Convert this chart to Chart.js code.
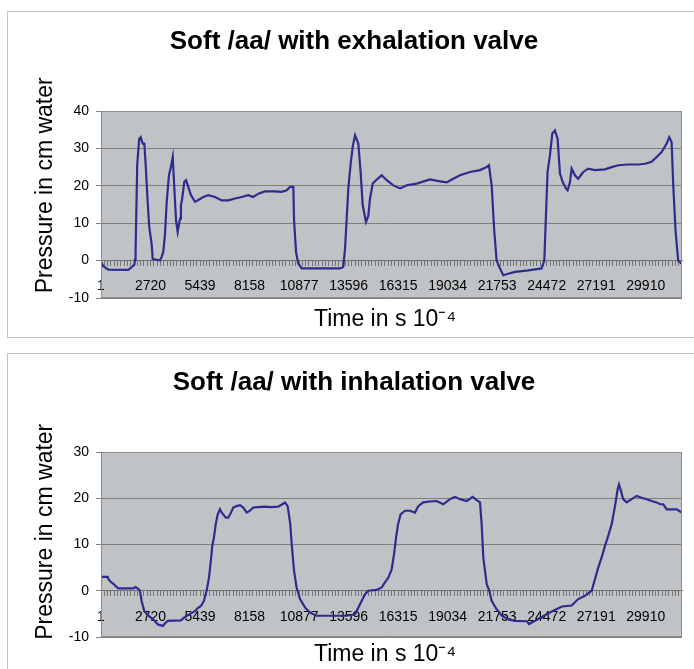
<!DOCTYPE html>
<html lang="en">
<head>
  <meta charset="UTF-8" />
  <title>Soft /aa/ pressure traces</title>
  <script src="https://cdn.jsdelivr.net/npm/chart.js"></script>
  <style>
    html, body { margin: 0; padding: 0; background: #fff; overflow: hidden; width: 694px; height: 669px; }
    .box { position: absolute; left: 7px; width: 700px; border: 1px solid #c4c4c4; overflow: hidden; }
    #boxTop { top: 11px; height: 325px; }
    #boxBottom { top: 353px; height: 330px; }
    canvas { display: block; }
  </style>
</head>
<body>
  <div class="box" id="boxTop"><canvas id="exhaleChart" width="692" height="325"></canvas></div>
  <div class="box" id="boxBottom"><canvas id="inhaleChart" width="692" height="315"></canvas></div>
  <script>
    // sample labels shown along the time axis
    const timeTickLabels = [1, 2720, 5439, 8158, 10877, 13596, 16315, 19034, 21753, 24472, 27191, 29910];
    const timeMax = 31900;

    // exhalation valve trace (sample no., cm water)
    const exhaleTime = [1, 130, 400, 1500, 1690, 1830, 1870, 1900, 1990, 2100, 2180, 2290, 2380, 2450, 2560, 2650, 2780, 2840,
      3240, 3330, 3420, 3510, 3610, 3730, 3840, 3940, 4020, 4120, 4210, 4340, 4390, 4460, 4570, 4670, 4790, 4940, 5160, 5340,
      5620, 5890, 6260, 6630, 6990, 7360, 7720, 8090, 8360, 8640, 9000, 9550, 9920, 10200, 10380, 10560, 10600, 10710, 10830,
      11020, 13120, 13300, 13400, 13490, 13580, 13710, 13820, 13950, 14130, 14260, 14370, 14550, 14680, 14770, 14920, 15100,
      15410, 15690, 16050, 16420, 16780, 17330, 18060, 18610, 18980, 19340, 19710, 20260, 20810, 21180, 21300, 21450, 21590,
      21720, 21910, 22090, 22360, 22730, 23460, 24190, 24340, 24410, 24520, 24650, 24780, 24920, 25070, 25200, 25350, 25530,
      25620, 25750, 25840, 26020, 26200, 26480, 26750, 27120, 27670, 28040, 28400, 28950, 29500, 29870, 30230, 30510, 30780,
      31060, 31200, 31330, 31420, 31550, 31690, 31880];
    const exhalePressure = [-0.4, -1.5, -2.4, -2.5, -1.7, -1.1, 0.3, 2.8, 25.7, 32.6, 33, 31.3, 31.3, 26, 16, 9, 4.5, 0.4,
      0.1, 1, 2.3, 6.8, 15.7, 22.8, 25, 27.7, 20, 10.8, 7.7, 11.2, 14.8, 16.6, 21, 21.5, 19.7, 17.5, 15.7, 16.2,
      17, 17.5, 17, 16.1, 16.1, 16.6, 17, 17.5, 17, 17.9, 18.5, 18.5, 18.4, 18.8, 19.7, 19.7, 10.8, 2.3, -0.8,
      -2.1, -2.1, -1.7, 3.2, 11.2, 19.3, 26, 30.4, 33.5, 31.3, 23.3, 14.8, 10.3, 12, 16.6, 20.6, 21.5,
      22.8, 21.5, 20.1, 19.3, 20.1, 20.6, 21.7, 21.2, 20.9, 21.9, 22.8, 23.7, 24.2, 25, 25.5, 20.1, 8.1,
      0, -2.1, -3.9, -3.5, -3, -2.6, -2.1, 0, 9.4, 23.7, 28.2, 34, 34.8, 32.6, 23.3, 21, 19.3,
      18.8, 21, 24.6, 22.8, 21.9, 23.7, 24.6, 24.2, 24.4, 25, 25.5, 25.7, 25.7, 25.9, 26.4, 27.7, 29,
      31.3, 33, 31.7, 20.1, 7.7, 0, -0.8];

    // inhalation valve trace (sample no., cm water)
    const inhaleTime = [1, 370, 400, 490, 680, 810, 950, 1770, 1900, 2010, 2140, 2230, 2380, 2600, 2870, 3130, 3400, 3570,
      3680, 4390, 4560, 4890, 5160, 5330, 5490, 5650, 5800, 5930, 6040, 6110, 6200, 6300, 6410, 6530, 6630, 6710, 6850,
      6990, 7140, 7260, 7450, 7630, 7810, 8000, 8180, 8360, 8640, 9000, 9370, 9730, 9920, 10100, 10250, 10390, 10470,
      10600, 10740, 10930, 11200, 11470, 11840, 13490, 13950, 14220, 14490, 14680, 15140, 15410, 15590, 15770, 15960,
      16090, 16200, 16310, 16450, 16690, 16960, 17240, 17420, 17690, 18060, 18430, 18790, 19160, 19430, 19710, 20080,
      20410, 20630, 20810, 20900, 20990, 21180, 21320, 21450, 21720, 22000, 22360, 22730, 23390, 23500, 23830, 24320,
      24810, 25310, 25840, 26200, 26570, 26940, 27120, 27300, 27490, 27670, 27850, 28040, 28220, 28370, 28440, 28550,
      28670, 28860, 29140, 29410, 29680, 29960, 30230, 30510, 30690, 30870, 31060, 31610, 31880];
    const inhalePressure = [3.0, 3.0, 2.6, 2.1, 1.5, 1.0, 0.5, 0.5, 0.8, 0.5, 0, -2.2, -4.4, -5.4, -6.2, -7.3, -7.6, -6.8,
      -6.5, -6.4, -5.8, -5.0, -4.4, -3.7, -3.3, -2.2, 0, 2.8, 6.8, 9.7, 11.5, 14.4, 16.5, 17.6, 16.9, 16.5, 15.8,
      15.8, 16.9, 18, 18.3, 18.5, 18, 16.9, 17.3, 18, 18.1, 18.2, 18.1, 18.2, 18.6, 19.1, 18.3, 14.5, 10.1,
      4.3, 0.7, -1.8, -3.6, -4.7, -5.4, -5.4, -5.1, -2.9, -0.8, 0, 0.2, 0.7, 1.8, 2.8, 4.6,
      7.9, 11.5, 14.4, 16.5, 17.3, 17.3, 16.9, 18.3, 19.1, 19.3, 19.4, 18.7, 19.8, 20.3, 19.8, 19.4,
      20.3, 19.6, 19.1, 14.4, 7.2, 1.4, 0, -2.2, -4.0, -5.4, -6.2, -6.5, -6.6, -7.2, -6.5, -5.4,
      -4.4, -3.4, -3.2, -1.8, -1.1, 0, 2.5, 5.0, 7.2, 9.7, 11.9, 14.4, 18.3, 22, 23, 21.6,
      19.8, 19.1, 19.8, 20.5, 20.1, 19.8, 19.4, 19.1, 18.7, 18.7, 17.6, 17.6, 16.9];

    const exhaleYTicks = [-10, 0, 10, 20, 30, 40];
    const inhaleYTicks = [-10, 0, 10, 20, 30];

    const FONT = '"Liberation Sans", Arial, Helvetica, sans-serif';
    const MINOR_PER_LABEL = 15;

    // grey plot area with a thin frame, Excel style
    const plotFrame = {
      id: 'plotFrame',
      beforeDraw(chart) {
        const { ctx, chartArea: a } = chart;
        ctx.save();
        ctx.fillStyle = '#c0c3c5';
        ctx.fillRect(a.left, a.top, a.right - a.left, a.bottom - a.top);
        ctx.restore();
      },
      afterDraw(chart) {
        const { ctx, chartArea: a } = chart;
        ctx.save();
        ctx.strokeStyle = '#8c8c8c';
        ctx.lineWidth = 1;
        ctx.strokeRect(Math.round(a.left) + 0.5, Math.round(a.top) + 0.5,
          Math.round(a.right - a.left) - 1, Math.round(a.bottom - a.top) - 1);
        ctx.restore();
      }
    };

    function makeChart(id, title, time, pressure, yTicks, lay) {
      const points = time.map((t, i) => ({ x: t, y: pressure[i] }));
      const step = timeTickLabels[1] - timeTickLabels[0];
      return new Chart(document.getElementById(id), {
        type: 'line',
        data: {
          datasets: [{
            data: points,
            borderColor: '#2c2c8e',
            borderWidth: 2.2,
            pointRadius: 0,
            tension: 0,
            fill: false
          }]
        },
        plugins: [plotFrame],
        options: {
          responsive: false,
          animation: false,
          devicePixelRatio: 1,
          layout: { padding: { left: 18, right: 18, top: 0, bottom: 0 } },
          plugins: {
            legend: { display: false },
            tooltip: { enabled: false },
            title: {
              display: true,
              text: title,
              color: '#000',
              font: { family: FONT, size: 26, weight: 'bold' },
              padding: { top: lay.titleTop, bottom: lay.titleBottom }
            },
            subtitle: {
              display: true,
              position: 'bottom',
              fullSize: false,
              text: 'Time in s 10\u207B\u2074  ',
              color: '#000',
              font: { family: FONT, size: 23, weight: 'normal' },
              padding: { top: lay.subTop, bottom: lay.subBottom }
            }
          },
          scales: {
            x: {
              type: 'linear',
              min: 1,
              max: timeMax,
              position: { y: 0 },
              afterBuildTicks: axis => {
                const ticks = [];
                timeTickLabels.forEach(v => {
                  for (let j = 0; j < MINOR_PER_LABEL; j++) {
                    const val = v + j * step / MINOR_PER_LABEL;
                    if (val <= timeMax) ticks.push({ value: val });
                  }
                });
                axis.ticks = ticks;
              },
              ticks: {
                autoSkip: false,
                maxRotation: 0,
                padding: lay.xPad,
                color: '#000',
                font: { family: FONT, size: 14 },
                callback: v => timeTickLabels.includes(v) ? String(v) : ''
              },
              grid: { drawOnChartArea: false, drawTicks: true, tickLength: 5, tickColor: '#727272', tickWidth: 1 },
              border: { display: true, color: '#727272', width: 1 }
            },
            y: {
              min: yTicks[0],
              max: yTicks[yTicks.length - 1],
              afterBuildTicks: axis => { axis.ticks = yTicks.map(v => ({ value: v })); },
              afterFit: scale => { scale.width = 75; },
              ticks: {
                padding: 7,
                color: '#000',
                font: { family: FONT, size: 14 }
              },
              grid: { color: '#808080', lineWidth: 1, tickLength: 5 },
              border: { display: false },
              title: {
                display: true,
                text: lay.yTitle,
                color: '#000',
                font: { family: FONT, size: 23 },
                padding: { top: 6, bottom: 0 }
              }
            }
          }
        }
      });
    }

    makeChart('exhaleChart', 'Soft /aa/ with exhalation valve', exhaleTime, exhalePressure, exhaleYTicks,
      { titleTop: 14.4, titleBottom: 53.4, subTop: 8.2, subBottom: 3.2, xPad: 12.6,
        yTitle: '      Pressure in cm water' });
    makeChart('inhaleChart', 'Soft /aa/ with inhalation valve', inhaleTime, inhalePressure, inhaleYTicks,
      { titleTop: 13.4, titleBottom: 53.4, subTop: 4.2, subBottom: 0.2, xPad: 12.6,
        yTitle: '    Pressure in cm water' });
  </script>
</body>
</html>
